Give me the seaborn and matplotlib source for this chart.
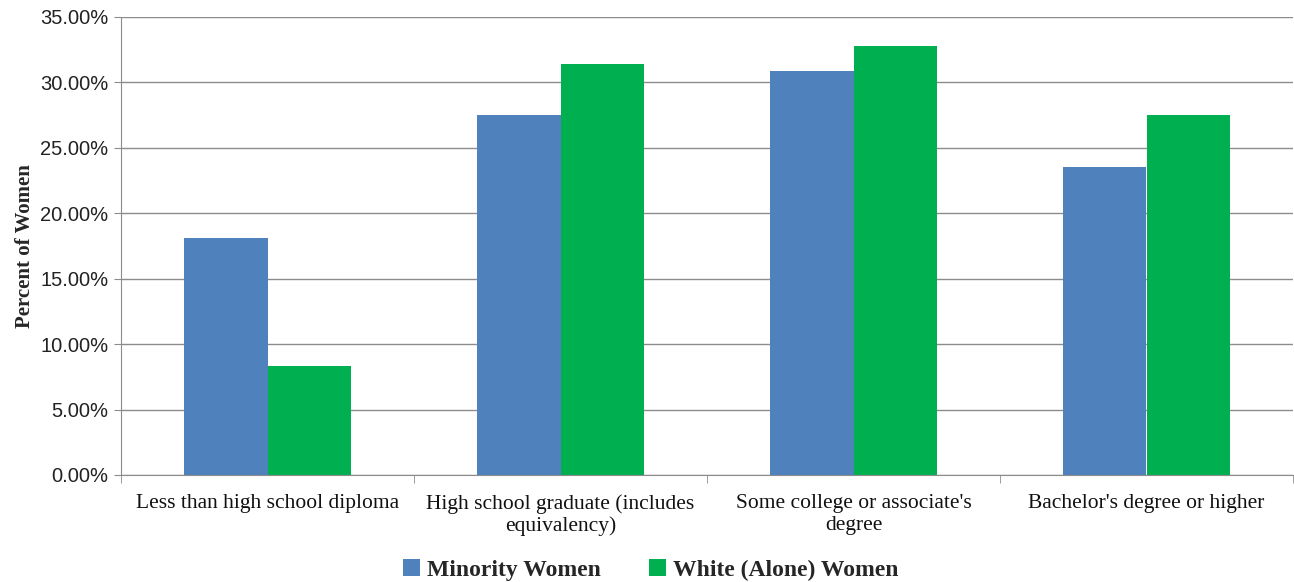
import numpy as np
import pandas as pd
import seaborn as sns
import matplotlib.pyplot as plt
from matplotlib.ticker import FuncFormatter, FixedLocator

# Values (percent)
categories = [
    "Less than high school diploma",
    "High school graduate (includes\nequivalency)",
    "Some college or associate's\ndegree",
    "Bachelor's degree or higher",
]
series_names = ["Minority Women", "White (Alone) Women"]
minority_pct = [18.1, 27.5, 30.9, 23.5]
white_pct = [8.3, 31.4, 32.8, 27.5]
y_ticks = [0, 5, 10, 15, 20, 25, 30, 35]

df = pd.DataFrame({
    "category": categories * 2,
    "group": [series_names[0]] * 4 + [series_names[1]] * 4,
    "pct": minority_pct + white_pct,
})

sns.set_style("white")
plt.rcParams['font.family'] = ['Liberation Sans', 'DejaVu Sans']

fig = plt.figure(figsize=(12.94, 5.82), dpi=100)
ax = fig.add_axes([121 / 1294, 1 - 475 / 582, 1172 / 1294, 458 / 582])

sns.barplot(data=df, x="category", y="pct", hue="group", order=categories,
            hue_order=series_names, palette=["#4F81BD", "#00B050"],
            width=0.567, saturation=1, ax=ax, legend=True, linewidth=0)

ax.set_ylim(0, 35)
ax.set_xlim(-0.5, 3.5)
ax.set_yticks(y_ticks)
ax.yaxis.set_major_formatter(FuncFormatter(lambda v, p: f"{v:.2f}%"))
ax.grid(axis="y", color="#8c8c8c", linewidth=1)
ax.set_axisbelow(True)

for s in ["top", "right"]:
    ax.spines[s].set_visible(False)
ax.spines["left"].set_color("#8c8c8c")
ax.spines["bottom"].set_color("#8c8c8c")

ax.tick_params(axis="y", left=True, length=5, color="#8c8c8c", labelsize=14.5,
               labelcolor="#222222", pad=4)
ax.tick_params(axis="x", which="major", bottom=True, length=0, pad=14)
ax.xaxis.set_minor_locator(FixedLocator([-0.5, 0.5, 1.5, 2.5, 3.5]))
ax.tick_params(axis="x", which="minor", bottom=True, length=6, color="#8c8c8c")
for lab in ax.get_xticklabels():
    lab.set_family("Liberation Serif")
    lab.set_fontsize(15.5)
    lab.set_color("#111111")
    lab.set_linespacing(1.15)
    lab.set_verticalalignment("top")

ax.set_xlabel("")
ax.set_ylabel("Percent of Women", fontsize=15, fontweight="bold",
              family="Liberation Serif", labelpad=4)

leg = ax.legend(loc="center", bbox_to_anchor=(0.452, -0.207), ncol=2,
                frameon=False, handlelength=0.75, handleheight=0.75,
                handletextpad=0.3, columnspacing=2.0,
                prop={"family": "Liberation Serif", "weight": "bold", "size": 17})

fig.savefig("out.png", dpi=100)
